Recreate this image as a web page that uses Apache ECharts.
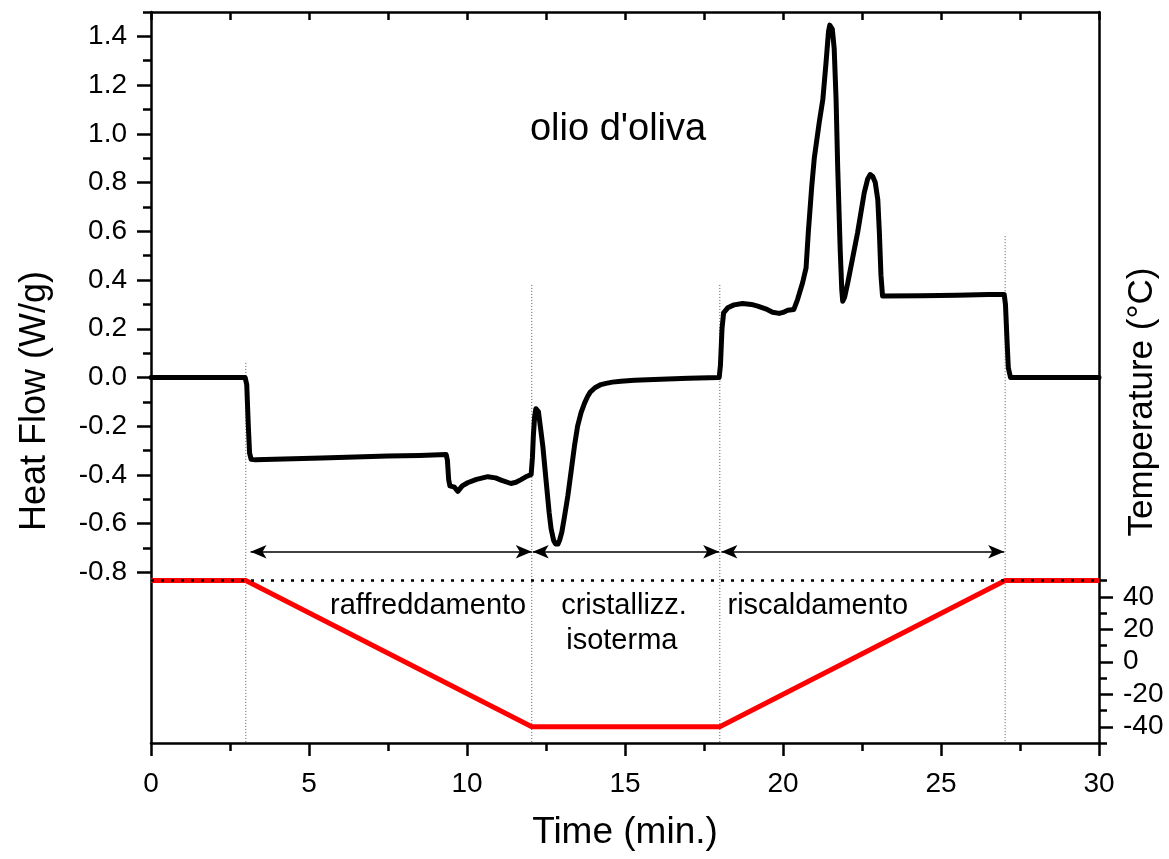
<!DOCTYPE html>
<html>
<head>
<meta charset="utf-8">
<title>olio d'oliva – DSC</title>
<script src="https://cdn.jsdelivr.net/npm/echarts@6/dist/echarts.min.js"></script>
<style>
  html, body { margin: 0; padding: 0; background: #fff; }
  #chart { width: 1169px; height: 859px; }
</style>
</head>
<body>
<div id="chart"></div>
<script>
// Heat flow trace (time in min, heat flow in W/g)
const hfTime = [
  0, 2.98, 3.03, 3.08, 3.12, 3.17, 3.3, 5.4, 7.5, 8.5, 9.34, 9.38, 9.42, 9.46, 9.6, 9.71, 9.85,
  10.02, 10.3, 10.66, 10.9, 11.1, 11.39, 11.55, 11.71, 11.9, 12.03, 12.07, 12.1, 12.14, 12.18, 12.22,
  12.26, 12.32, 12.4, 12.5, 12.6, 12.66, 12.74, 12.8, 12.84, 12.88, 12.93, 13.0, 13.08, 13.19, 13.3, 13.4,
  13.5, 13.61, 13.72, 13.82, 13.9, 14.05, 14.24, 14.4, 14.6, 14.87, 15.3, 15.92, 17.0, 17.98, 18.02, 18.07,
  18.12, 18.25, 18.45, 18.72, 19.0, 19.2, 19.45, 19.67, 19.88, 20.0, 20.15, 20.34, 20.46, 20.62,
  20.73, 20.8, 20.91, 20.99, 21.15, 21.26, 21.36, 21.44, 21.48, 21.52, 21.56, 21.62, 21.68, 21.73,
  21.81, 21.86, 21.89, 21.95, 22.05, 22.36, 22.57, 22.68, 22.76, 22.84, 22.92, 23.0, 23.05,
  23.1, 23.15, 24.37, 25.5, 26.5, 27.0, 27.04, 27.09, 27.13, 27.2, 30
];
const hfFlow = [
  0, 0, -0.03, -0.2, -0.31, -0.336, -0.338, -0.33, -0.322, -0.32, -0.316, -0.34, -0.42, -0.445, -0.45, -0.467, -0.445,
  -0.432, -0.418, -0.407, -0.412, -0.422, -0.435, -0.43, -0.419, -0.405, -0.398, -0.33, -0.24, -0.16, -0.128, -0.126,
  -0.14, -0.2, -0.282, -0.42, -0.555, -0.62, -0.668, -0.683, -0.687, -0.683, -0.668, -0.635, -0.575, -0.487, -0.38, -0.282,
  -0.2, -0.144, -0.105, -0.077, -0.06, -0.042, -0.029, -0.024, -0.019, -0.015, -0.011, -0.008, -0.003, 0, 0.05, 0.2,
  0.265, 0.286, 0.298, 0.304, 0.3, 0.293, 0.282, 0.268, 0.263, 0.267, 0.276, 0.279, 0.32, 0.389,
  0.45, 0.594, 0.785, 0.9, 1.05, 1.14, 1.29, 1.42, 1.446, 1.449, 1.43, 1.35, 1.14, 0.867,
  0.525, 0.36, 0.313, 0.33, 0.389, 0.594, 0.758, 0.815, 0.833, 0.825, 0.8, 0.73, 0.594,
  0.42, 0.334, 0.335, 0.338, 0.341, 0.341, 0.3, 0.15, 0.04, 0, 0
];

// Temperature programme (time in min, temperature in °C)
const tempTime = [0, 3, 12.05, 18, 27.03, 30];
const tempValue = [50, 50, -40, -40, 50, 50];
const refTemp = 50;

// Segment boundaries (dotted verticals) and their upper ends in W/g
const stepTimes = [3, 12.05, 18, 27.03];
const stepTops = [0.06, 0.38, 0.38, 0.58];

// Double arrows spanning each segment
const spanStart = [3.15, 12.08, 18.05];
const spanEnd = [12.05, 17.98, 27.0];
const spanLevel = -0.715;

// Axis tick values
const timeTicksMajor = 5;
const timeTicksTop = 2.5;
const hfTicks = [-0.8, -0.6, -0.4, -0.2, 0, 0.2, 0.4, 0.6, 0.8, 1.0, 1.2, 1.4];
const hfMinorTicks = [-0.7, -0.5, -0.3, -0.1, 0.1, 0.3, 0.5, 0.7, 0.9, 1.1, 1.3, 1.5];
const tempTicks = [-40, -20, 0, 20, 40];
const tempMinorTicks = [-50, -30, -10, 10, 30, 50];

// Text annotations placed in data coordinates (time, W/g)
const noteText = ["olio d'oliva", 'raffreddamento', 'cristallizz.', 'isoterma', 'riscaldamento'];
const noteTime = [14.78, 8.77, 14.97, 14.9, 21.1];
const noteFlow = [1.018, -0.936, -0.936, -1.083, -0.936];
const noteSize = [38, 29, 29, 29, 29];

const FONT = '"Liberation Sans", Arial, Helvetica, sans-serif';
const AXIS_W = 2.5;
const GRID = { left: 151, top: 12, width: 948, height: 731 };

const chart = echarts.init(document.getElementById('chart'), null, { renderer: 'canvas' });

const hfData = hfTime.map((t, i) => [t, hfFlow[i]]);
const tempData = tempTime.map((t, i) => [t, tempValue[i]]);

const stepSeries = stepTimes.map((t, i) => ({
  type: 'line',
  xAxisIndex: 0,
  yAxisIndex: 0,
  data: [[t, stepTops[i]], [t, -1.5]],
  showSymbol: false,
  silent: true,
  lineStyle: { color: '#555', width: 1, type: [1, 2] },
  z: 2
}));

const tickStyle = { color: '#000', width: AXIS_W };

const option = {
  animation: false,
  backgroundColor: '#fff',
  // second grid carries only the short (minor) ticks of the two value axes
  grid: [
    Object.assign({ containLabel: false }, GRID),
    Object.assign({ containLabel: false }, GRID)
  ],
  xAxis: [
    {
      type: 'value', gridIndex: 0, position: 'bottom', min: 0, max: 30, interval: timeTicksMajor,
      axisLine: { show: true, onZero: false, lineStyle: tickStyle },
      axisTick: { show: true, inside: false, length: 13, lineStyle: tickStyle },
      minorTick: { show: true, splitNumber: 2, length: 8, lineStyle: tickStyle },
      axisLabel: { fontSize: 28, fontFamily: FONT, color: '#000', margin: 27 },
      splitLine: { show: false }, minorSplitLine: { show: false }
    },
    {
      type: 'value', gridIndex: 0, position: 'top', min: 0, max: 30, interval: timeTicksTop,
      axisLine: { show: true, onZero: false, lineStyle: tickStyle },
      axisTick: { show: true, inside: true, length: 8, lineStyle: tickStyle },
      axisLabel: { show: false },
      splitLine: { show: false }
    },
    {
      type: 'value', gridIndex: 1, position: 'bottom', min: 0, max: 30, show: false
    }
  ],
  yAxis: [
    {
      type: 'value', gridIndex: 0, position: 'left', min: -1.5, max: 1.5,
      axisLine: { show: true, onZero: false, lineStyle: tickStyle },
      axisTick: { show: true, inside: false, length: 14, customValues: hfTicks, lineStyle: tickStyle },
      axisLabel: { customValues: hfTicks, formatter: v => v.toFixed(1), fontSize: 28, fontFamily: FONT, color: '#000', margin: 24 },
      splitLine: { show: false }
    },
    {
      type: 'value', gridIndex: 0, position: 'right', min: -50, max: 400,
      axisLine: { show: true, onZero: false, lineStyle: tickStyle },
      axisTick: { show: true, inside: false, length: 14, customValues: tempTicks, lineStyle: tickStyle },
      axisLabel: { customValues: tempTicks, fontSize: 28, fontFamily: FONT, color: '#000', margin: 24 },
      splitLine: { show: false }
    },
    {
      type: 'value', gridIndex: 1, position: 'left', min: -1.5, max: 1.5,
      axisLine: { show: false },
      axisTick: { show: true, inside: false, length: 8, customValues: hfMinorTicks, lineStyle: tickStyle },
      axisLabel: { show: false, customValues: hfMinorTicks },
      splitLine: { show: false }
    },
    {
      type: 'value', gridIndex: 1, position: 'right', min: -50, max: 400,
      axisLine: { show: false },
      axisTick: { show: true, inside: false, length: 8, customValues: tempMinorTicks, lineStyle: tickStyle },
      axisLabel: { show: false, customValues: tempMinorTicks },
      splitLine: { show: false }
    }
  ],
  series: [
    ...stepSeries,
    {
      name: 'Temperature', type: 'line', xAxisIndex: 0, yAxisIndex: 1,
      data: tempData, showSymbol: false, silent: true,
      lineStyle: { color: '#ff0000', width: 5, join: 'miter' }, z: 3
    },
    {
      name: 'reference', type: 'line', xAxisIndex: 0, yAxisIndex: 1,
      data: [[0, refTemp], [30, refTemp]], showSymbol: false, silent: true,
      lineStyle: { color: '#000', width: 2.5, type: [3, 7] }, z: 4
    },
    {
      name: 'Heat Flow', type: 'line', xAxisIndex: 0, yAxisIndex: 0,
      data: hfData, showSymbol: false, silent: true, smooth: false,
      lineStyle: { color: '#000', width: 5, join: 'round', cap: 'round' }, z: 6
    },
    {
      name: 'segments', type: 'line', xAxisIndex: 0, yAxisIndex: 0, data: [], silent: true,
      markLine: {
        silent: true, animation: false,
        symbol: ['arrow', 'arrow'], symbolSize: [10, 16],
        label: { show: false },
        lineStyle: { color: '#000', width: 1.5, type: 'solid' },
        emphasis: { disabled: true },
        data: spanStart.map((s, i) => [
          { coord: [s, spanLevel] },
          { coord: [spanEnd[i], spanLevel] }
        ])
      },
      z: 5
    }
  ]
};

chart.setOption(option);

// Axis titles and annotations as text; annotations are anchored in data space
const centred = (text, size, extra) => ({
  type: 'text',
  style: {
    text: text, font: size + 'px ' + FONT, fill: '#000',
    align: 'center', verticalAlign: 'middle', textAlign: 'center', textVerticalAlign: 'middle'
  },
  z: 100,
  ...extra
});

const graphics = [
  centred('Heat Flow (W/g)', 36, { x: 35, y: 401, rotation: Math.PI / 2 }),
  centred('Temperature (°C)', 35, { x: 1142, y: 402, rotation: Math.PI / 2 }),
  centred('Time (min.)', 37, { x: GRID.left + GRID.width / 2, y: 833 })
];
noteText.forEach((txt, i) => {
  const p = chart.convertToPixel({ xAxisIndex: 0, yAxisIndex: 0 }, [noteTime[i], noteFlow[i]]);
  graphics.push(centred(txt, noteSize[i], { x: p[0], y: p[1] }));
});
chart.setOption({ graphic: graphics });
</script>
</body>
</html>
